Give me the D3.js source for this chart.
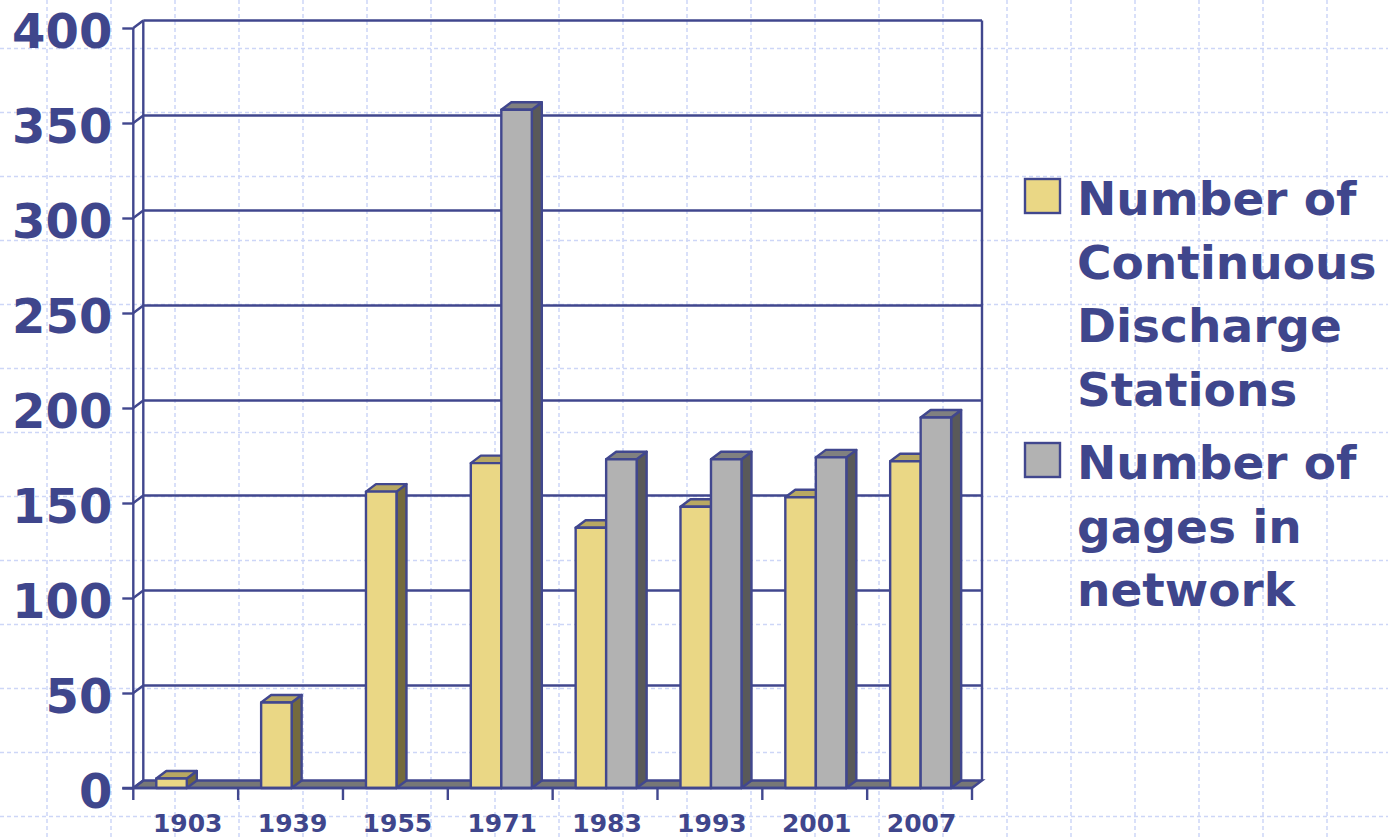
<!DOCTYPE html>
<html>
<head>
<meta charset="utf-8">
<script src="https://cdn.jsdelivr.net/npm/d3@7"></script>
<style>
  html, body { margin: 0; padding: 0; background: #fff; }
  svg { display: block; }
</style>
</head>
<body>
<script>
// data
const years = ["1903", "1939", "1955", "1971", "1983", "1993", "2001", "2007"]
const stations = [5, 45, 156, 171, 137, 148, 153, 172]
const gages = [0, 0, 0, 357, 173, 173, 174, 195]
const seriesNames = ["Number of Continuous Discharge Stations", "Number of gages in network"]
const legendLines = [["Number of", "Continuous", "Discharge", "Stations"], ["Number of", "gages in", "network"]]
const yTicks = [0, 50, 100, 150, 200, 250, 300, 350, 400]

const W = 1388, H = 840
const navy = "#41478e"
const textColor = "#3f468c"
const lw = 2.4
const palette = [
    { front: "#ead785", top: "#b8a862", side: "#746a3e" },
    { front: "#b2b2b2", top: "#808080", side: "#595959" }
]

// 3d depth offset
const dx = 10, dy = -7.5

const svg = d3.select("body").append("svg")
    .attr("width", W)
    .attr("height", H)

// background dashed grid
const bg = svg.append("g")
d3.range(47, W, 64).forEach(x => {
    bg.append("line").attr("x1", x).attr("x2", x).attr("y1", 0).attr("y2", H)
})
d3.range(48.5, H, 64).forEach(y => {
    bg.append("line").attr("x1", 0).attr("x2", W).attr("y1", y).attr("y2", y)
})
bg.selectAll("line")
    .attr("stroke", "#cdd6f7")
    .attr("stroke-width", 1.5)
    .attr("stroke-dasharray", "4,3")

// scales
const x = d3.scaleBand()
    .domain(years)
    .range([133.3, 972])

const xInner = d3.scaleBand()
    .domain(seriesNames)
    .range([23, 84])

const y = d3.scaleLinear()
    .domain([0, 400])
    .range([788, 28])

const left = x.range()[0], right = x.range()[1]
const base = y(0)

const chart = svg.append("g")

// floor
chart.append("polygon")
    .attr("points", [[left, base], [left + dx, base + dy], [right + dx, base + dy], [right, base]].join(" "))
    .attr("fill", "#777777")
    .attr("stroke", navy)
    .attr("stroke-width", lw)

// back wall gridlines
chart.selectAll(".grid")
    .data(yTicks.filter(d => d > 0))
    .join("line")
    .attr("x1", left + dx)
    .attr("x2", right + dx)
    .attr("y1", d => y(d) + dy)
    .attr("y2", d => y(d) + dy)
    .attr("stroke", navy)
    .attr("stroke-width", lw)

// side wall diagonals
chart.selectAll(".diag")
    .data(yTicks)
    .join("line")
    .attr("x1", left)
    .attr("x2", left + dx)
    .attr("y1", d => y(d))
    .attr("y2", d => y(d) + dy)
    .attr("stroke", navy)
    .attr("stroke-width", lw)

// wall edges
chart.append("line")
    .attr("x1", left + dx).attr("x2", left + dx)
    .attr("y1", y(400) + dy).attr("y2", base + dy)
    .attr("stroke", navy).attr("stroke-width", lw)
chart.append("line")
    .attr("x1", right + dx).attr("x2", right + dx)
    .attr("y1", y(400) + dy).attr("y2", base + dy)
    .attr("stroke", navy).attr("stroke-width", lw)

// bars
const bars = []
years.forEach((yr, i) => {
    [stations[i], gages[i]].forEach((v, s) => {
        if (v > 0) bars.push({ year: yr, series: seriesNames[s], s: s, value: v })
    })
})

const barW = xInner.bandwidth()
const barG = chart.selectAll(".bar")
    .data(bars)
    .join("g")
    .attr("stroke", navy)
    .attr("stroke-width", lw)
    .attr("stroke-linejoin", "round")

barG.append("polygon")
    .attr("points", d => {
        const x0 = x(d.year) + xInner(d.series) + barW, y0 = y(d.value)
        return [[x0, y0], [x0 + dx, y0 + dy], [x0 + dx, base + dy], [x0, base]].join(" ")
    })
    .attr("fill", d => palette[d.s].side)

barG.append("polygon")
    .attr("points", d => {
        const x0 = x(d.year) + xInner(d.series), y0 = y(d.value)
        return [[x0, y0], [x0 + dx, y0 + dy], [x0 + barW + dx, y0 + dy], [x0 + barW, y0]].join(" ")
    })
    .attr("fill", d => palette[d.s].top)

barG.append("rect")
    .attr("x", d => x(d.year) + xInner(d.series))
    .attr("y", d => y(d.value))
    .attr("width", barW)
    .attr("height", d => base - y(d.value))
    .attr("fill", d => palette[d.s].front)

// y axis
const yAxis = chart.append("g")
    .attr("transform", `translate(${left},0)`)
    .call(d3.axisLeft(y).tickValues(yTicks).tickSize(11).tickPadding(10))
yAxis.selectAll("line, path").attr("stroke", navy).attr("stroke-width", lw)
yAxis.select(".domain").attr("d", `M0,${y(400)}V${base}`)
yAxis.selectAll("text")
    .attr("fill", textColor)
    .attr("dy", "0.4em")
    .style("font-family", "'DejaVu Sans', sans-serif")
    .style("font-weight", "bold")
    .style("font-size", "48px")

// x axis
chart.append("line")
    .attr("x1", left - 11).attr("x2", right)
    .attr("y1", base).attr("y2", base)
    .attr("stroke", navy).attr("stroke-width", lw)

chart.selectAll(".xtick")
    .data(years.map(d => x(d)).concat([right]))
    .join("line")
    .attr("x1", d => d).attr("x2", d => d)
    .attr("y1", base).attr("y2", base + 12)
    .attr("stroke", navy).attr("stroke-width", lw)

chart.selectAll(".xlabel")
    .data(years)
    .join("text")
    .attr("x", d => x(d) + x.bandwidth() / 2 + 2)
    .attr("y", 832)
    .attr("text-anchor", "middle")
    .attr("fill", textColor)
    .style("font-family", "'DejaVu Sans', sans-serif")
    .style("font-weight", "bold")
    .style("font-size", "25px")
    .text(d => d)

// legend
const legendTops = [179, 443]
const legend = svg.append("g")
legendLines.forEach((lines, s) => {
    legend.append("rect")
        .attr("x", 1025)
        .attr("y", legendTops[s])
        .attr("width", 35)
        .attr("height", 34)
        .attr("fill", palette[s].front)
        .attr("stroke", navy)
        .attr("stroke-width", lw)
    lines.forEach((t, k) => {
        legend.append("text")
            .attr("x", 1077)
            .attr("y", legendTops[s] + 36 + k * 63.5)
            .attr("fill", textColor)
            .style("font-family", "'DejaVu Sans', sans-serif")
            .style("font-weight", "bold")
            .style("font-size", "47px")
            .text(t)
    })
})
</script>
</body>
</html>
